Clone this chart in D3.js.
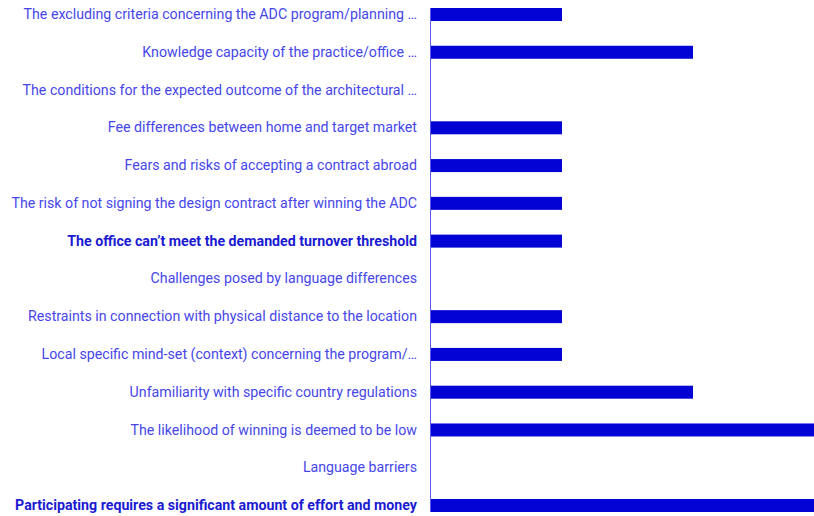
<!DOCTYPE html>
<html>
<head>
<meta charset="utf-8">
<script src="https://cdn.jsdelivr.net/npm/d3@7"></script>
<style>
  html, body { margin: 0; padding: 0; background: #fff; overflow: hidden; }
  svg { display: block; }
  .tick text { font-family: Roboto, "Liberation Sans", sans-serif; font-size: 14.2px; fill: #4646ea; }
  .tick.strong text { font-weight: bold; fill: #1a1ad2; }
</style>
</head>
<body>
<svg id="chart" width="814" height="516"></svg>
<script>
// Reasons for not taking part, and how many respondents named each
const categories = [
  "The excluding criteria concerning the ADC program/planning …",
  "Knowledge capacity of the practice/office …",
  "The conditions for the expected outcome of the architectural …",
  "Fee differences between home and target market",
  "Fears and risks of accepting a contract abroad",
  "The risk of not signing the design contract after winning the ADC",
  "The office can’t meet the demanded turnover threshold",
  "Challenges posed by language differences",
  "Restraints in connection with physical distance to the location",
  "Local specific mind-set (context) concerning the program/…",
  "Unfamiliarity with specific country regulations",
  "The likelihood of winning is deemed to be low",
  "Language barriers",
  "Participating requires a significant amount of effort and money"
];
const counts = [1, 2, 0, 1, 1, 1, 1, 0, 1, 1, 2, 3, 0, 3];
// Categories set in bold
const highlighted = [
  "The office can’t meet the demanded turnover threshold",
  "Participating requires a significant amount of effort and money"
];

const svg = d3.select("#chart");
const x0 = 431;

const y = d3.scaleBand()
  .domain(categories)
  .range([8, 512])
  .paddingInner(0.656)
  .paddingOuter(0);

const x = d3.scaleLinear()
  .domain([0, 3])
  .range([x0, x0 + 393]);

const data = categories.map((c, i) => ({ category: c, value: counts[i] }));

svg.append("g")
  .selectAll("rect")
  .data(data.filter(d => d.value > 0))
  .join("rect")
  .attr("x", x(0))
  .attr("y", d => y(d.category))
  .attr("width", d => x(d.value) - x(0))
  .attr("height", y.bandwidth())
  .attr("fill", "#0303d6");

const axis = svg.append("g")
  .attr("transform", `translate(${x0 - 0.5},0)`)
  .call(d3.axisLeft(y).tickSize(0).tickPadding(13.5));

axis.select(".domain").remove();
axis.append("line")
  .attr("x1", 0).attr("x2", 0)
  .attr("y1", y(categories[0]))
  .attr("y2", y(categories[categories.length - 1]) + y.bandwidth())
  .attr("stroke", "#5a5af0")
  .attr("stroke-width", 1);

axis.selectAll(".tick")
  .classed("strong", d => highlighted.includes(d));
</script>
</body>
</html>
